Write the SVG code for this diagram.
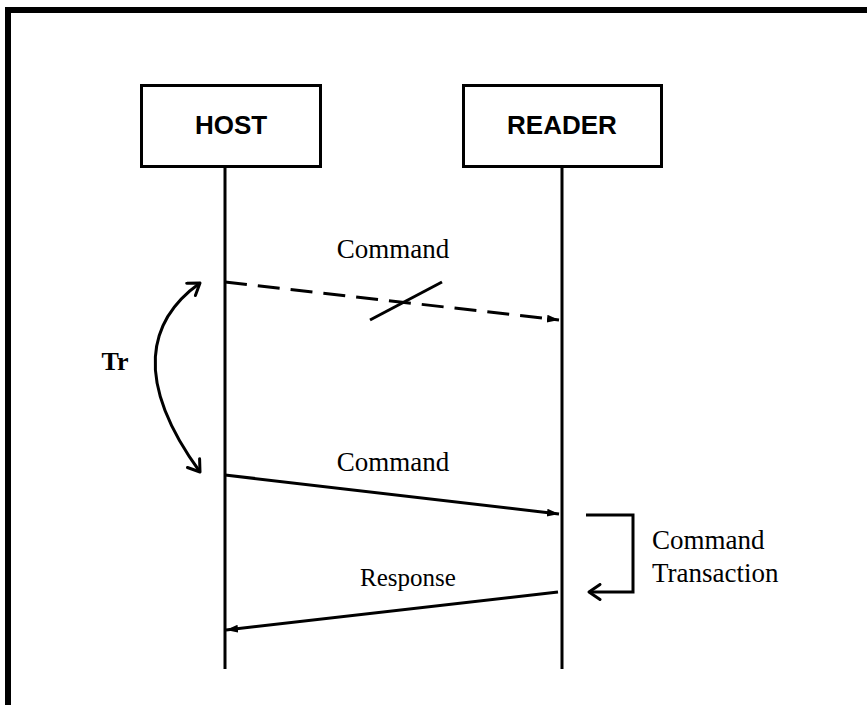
<svg xmlns="http://www.w3.org/2000/svg" width="867" height="705" viewBox="0 0 867 705">
<defs>
<style>
.ln{stroke:#000;stroke-width:3;fill:none}
.box{stroke:#000;stroke-width:3;fill:#fff}
.lbl{font-family:"Liberation Sans",Arial,sans-serif;font-weight:bold;font-size:26px;text-anchor:middle}
.ser{font-family:"Liberation Serif","Times New Roman",serif;font-size:27px}
.sm{font-size:25px}
</style>
<marker id="tri" viewBox="0 0 12 10" refX="12" refY="5" markerWidth="12" markerHeight="10" markerUnits="userSpaceOnUse" orient="auto">
<path d="M0,1 L12,5 L0,9 Z" fill="#000"/>
</marker>
<marker id="chev" viewBox="0 0 18 18" refX="16" refY="9" markerWidth="18" markerHeight="18" markerUnits="userSpaceOnUse" orient="auto-start-reverse">
<path d="M5,1.5 L16,9 L5,16.5" fill="none" stroke="#000" stroke-width="3" stroke-linecap="round" stroke-linejoin="round"/>
</marker>
</defs>
<rect width="867" height="705" fill="#fff"/>
<rect x="8" y="10" width="900" height="800" fill="none" stroke="#000" stroke-width="6"/>
<g id="host">
<line class="ln" x1="225" y1="167" x2="225" y2="669"/>
<rect class="box" x="141.5" y="85.5" width="179" height="81"/>
<text class="lbl" x="231" y="134">HOST</text>
</g>
<g id="reader">
<line class="ln" x1="562" y1="167" x2="562" y2="669"/>
<rect class="box" x="463.5" y="85.5" width="198" height="81"/>
<text class="lbl" x="562" y="134">READER</text>
</g>
<g id="connectors">
<line class="ln" x1="225" y1="282" x2="559" y2="320" stroke-dasharray="22,11" marker-end="url(#tri)"/>
<line class="ln" x1="370" y1="320" x2="442" y2="282"/>
<line class="ln" x1="225" y1="475" x2="559" y2="514" marker-end="url(#tri)"/>
<line class="ln" x1="558" y1="592" x2="226" y2="630" marker-end="url(#tri)"/>
<path class="ln" d="M586,515 H633 V592 H589" marker-end="url(#chev)"/>
<path class="ln" d="M200,283 C148,320 133,380 200,472" marker-start="url(#chev)" marker-end="url(#chev)"/>
</g>
<g id="labels">
<text class="ser" x="393" y="258" text-anchor="middle">Command</text>
<text class="ser" x="393" y="471" text-anchor="middle">Command</text>
<text class="ser sm" x="408" y="586" text-anchor="middle">Response</text>
<text class="ser" x="652" y="549">Command</text>
<text class="ser" x="652" y="582">Transaction</text>
<text x="115" y="370" text-anchor="middle" font-family="'Liberation Serif','Times New Roman',serif" font-weight="bold" font-size="26">Tr</text>
</g>
</svg>
